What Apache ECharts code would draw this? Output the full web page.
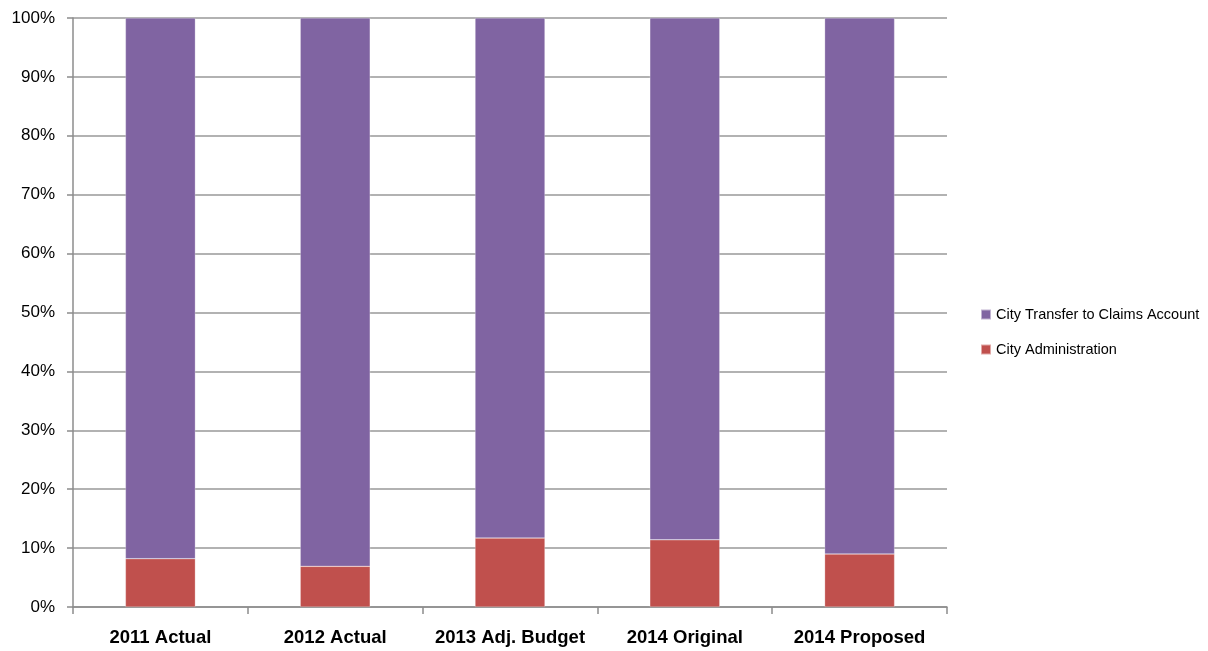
<!DOCTYPE html>
<html><head><meta charset="utf-8">
<script src="https://cdn.jsdelivr.net/npm/echarts@6/dist/echarts.min.js"></script>
<style>html,body{margin:0;padding:0;background:#fff}#c{width:1208px;height:651px}</style>
</head><body><div id="c"></div>
<script>
const categories = ['2011 Actual','2012 Actual','2013 Adj. Budget','2014 Original','2014 Proposed'];
const cityAdministration = [8.2, 6.9, 11.7, 11.4, 9.0];
const cityTransfer = [91.8, 93.1, 88.3, 88.6, 91.0];
const chart = echarts.init(document.getElementById('c'));
chart.setOption({
  animation: false,
  grid: {left: 73, right: 261, top: 18, bottom: 44, containLabel: false},
  legend: {
    orient: 'vertical', left: 975, top: 302, itemWidth: 10, itemHeight: 10, itemGap: 20,
    icon: 'rect',
    textStyle: {fontFamily: 'Liberation Sans, Arial', fontSize: 14.5, color: '#000'},
    data: ['City Transfer to Claims Account', 'City Administration']
  },
  xAxis: {
    type: 'category', data: categories,
    axisLine: {lineStyle: {color: '#8c8c8c', width: 1.5}},
    axisTick: {show: true, length: 7, lineStyle: {color: '#8c8c8c', width: 1.5}},
    axisLabel: {interval: 0, fontFamily: 'Liberation Sans, Arial', fontSize: 18.5, fontWeight: 'bold', color: '#000', margin: 21}
  },
  yAxis: {
    type: 'value', min: 0, max: 100, interval: 10,
    axisLine: {show: true, lineStyle: {color: '#8c8c8c', width: 1.5}},
    axisTick: {show: true, length: 6, lineStyle: {color: '#8c8c8c', width: 1.5}},
    splitLine: {lineStyle: {color: '#999', width: 1.5}},
    axisLabel: {formatter: '{value}%', fontFamily: 'Liberation Sans, Arial', fontSize: 17, color: '#000', margin: 18}
  },
  series: [
    {name: 'City Administration', type: 'bar', stack: 's', data: cityAdministration, barWidth: '40%',
     itemStyle: {color: '#C0504D', borderColor: 'rgba(255,255,255,0.5)', borderWidth: 0.5}},
    {name: 'City Transfer to Claims Account', type: 'bar', stack: 's', data: cityTransfer, barWidth: '40%',
     itemStyle: {color: '#8064A2', borderColor: 'rgba(255,255,255,0.5)', borderWidth: 0.5}}
  ]
});
</script></body></html>
